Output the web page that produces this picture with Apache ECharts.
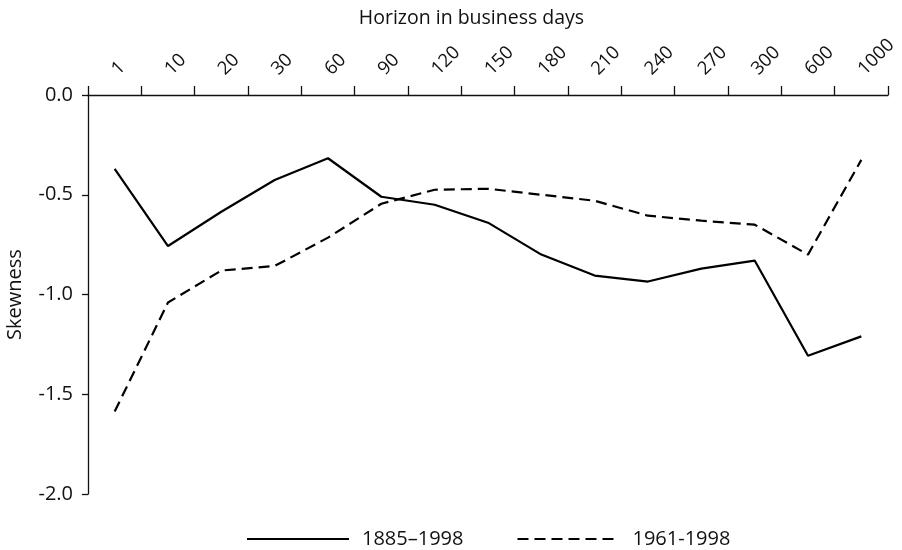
<!DOCTYPE html>
<html>
<head>
<meta charset="utf-8">
<script src="https://cdn.jsdelivr.net/npm/echarts@6/dist/echarts.min.js"></script>
<style>
  html, body { margin: 0; padding: 0; background: #fff; }
  #chart { width: 902px; height: 550px; }
</style>
</head>
<body>
<div id="chart"></div>
<script>
// horizons (business days) and skewness of the two samples
const horizons = ['1', '10', '20', '30', '60', '90', '120', '150', '180', '210', '240', '270', '300', '600', '1000'];
const skew1885 = [-0.37, -0.757, -0.585, -0.426, -0.317, -0.51, -0.55, -0.64, -0.80, -0.905, -0.935, -0.87, -0.83, -1.307, -1.21];
const skew1961 = [-1.587, -1.04, -0.88, -0.857, -0.715, -0.545, -0.475, -0.47, -0.50, -0.53, -0.605, -0.63, -0.65, -0.80, -0.325];
const yTicks = [-2.0, -1.5, -1.0, -0.5, 0.0];

const FONT = '"Open Sans"';
const INK = '#111';

const chart = echarts.init(document.getElementById('chart'));

const option = {
  animation: false,
  backgroundColor: '#fff',
  textStyle: { fontFamily: FONT, color: INK },
  grid: { left: 88, right: 14, top: 95, bottom: 56, outerBoundsMode: 'none', containLabel: false },
  xAxis: {
    type: 'category',
    position: 'top',
    data: horizons,
    boundaryGap: true,
    name: 'Horizon in business days',
    nameLocation: 'middle',
    nameGap: 64,
    // titel sitzt etwas links von der Achsenmitte
    nameTextStyle: { fontSize: 19.5, color: INK, fontFamily: FONT, padding: [0, 33, 0, 0] },
    axisLine: { show: true, lineStyle: { color: INK, width: 1.3 } },
    axisTick: { show: true, length: 9, inside: false, lineStyle: { color: INK, width: 1.3 } },
    axisLabel: { rotate: 45, fontSize: 18.5, color: INK, margin: 23, fontFamily: FONT, interval: 0 },
    splitLine: { show: false }
  },
  yAxis: {
    type: 'value',
    min: yTicks[0],
    max: yTicks[yTicks.length - 1],
    interval: 0.5,
    name: 'Skewness',
    nameLocation: 'middle',
    nameRotate: 90,
    nameGap: 63,
    nameTextStyle: { fontSize: 20, color: INK, fontFamily: FONT },
    axisLine: { show: true, lineStyle: { color: INK, width: 1.3 } },
    axisTick: { show: true, length: 6, inside: false, lineStyle: { color: INK, width: 1.3 } },
    axisLabel: { fontSize: 20, color: INK, margin: 15, fontFamily: FONT, formatter: v => v.toFixed(1) },
    splitLine: { show: false }
  },
  legend: {
    left: 246,
    top: 529,
    padding: 0,
    itemWidth: 102,
    itemHeight: 14,
    itemGap: 53,
    itemStyle: { opacity: 0 },
    textStyle: { fontSize: 20, color: INK, fontFamily: FONT, padding: [0, 0, 0, 8] },
    data: ['1885–1998', '1961-1998']
  },
  series: [
    {
      name: '1885–1998',
      type: 'line',
      data: skew1885,
      symbol: 'none',
      lineStyle: { color: '#000', width: 2.2, type: 'solid' },
      itemStyle: { color: '#000' }
    },
    {
      name: '1961-1998',
      type: 'line',
      data: skew1961,
      symbol: 'none',
      lineStyle: { color: '#000', width: 2.2, type: [11, 6] },
      itemStyle: { color: '#000' }
    }
  ]
};

chart.setOption(option);
</script>
</body>
</html>
